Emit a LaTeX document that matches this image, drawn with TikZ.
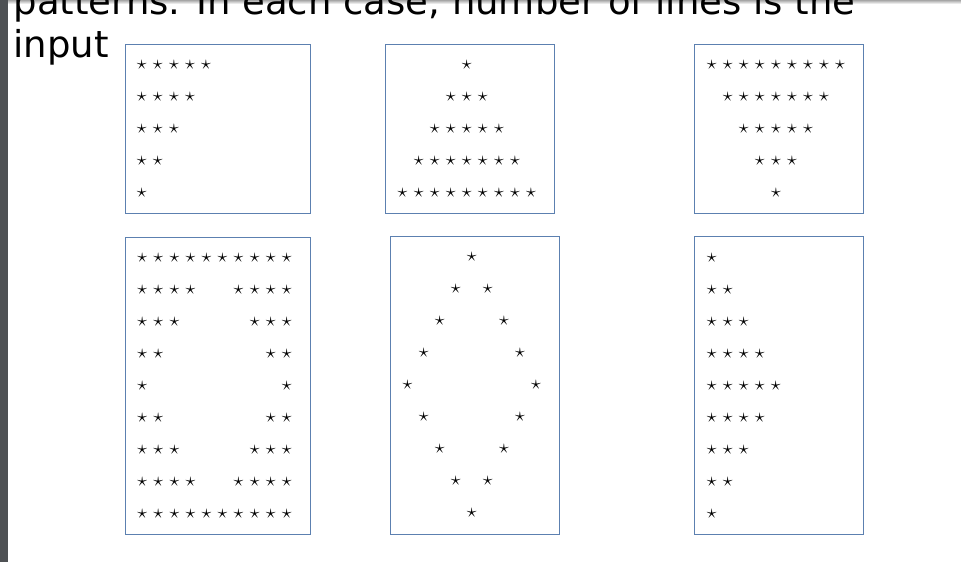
\documentclass[tikz,border=0pt]{standalone}
\usepackage{graphicx}
\usepackage{fontspec}
\newfontfamily\titlefont{DejaVu Sans}
\usetikzlibrary{positioning}
\definecolor{panelblue}{RGB}{92,128,176}
\definecolor{bargray}{RGB}{78,81,84}
\newcommand{\onestar}{\scalebox{0.8}{$\star$}}
\tikzset{
    panel/.style={draw=panelblue, line width=0.9pt, fill=none, inner sep=0pt},
    starnode/.style={inner sep=0pt, font=\fontsize{24.88}{24.88}\selectfont},
    heading/.style={anchor=base west, inner sep=0pt, font=\titlefont\fontsize{37}{42}\selectfont}
}

\begin{document}
\begin{tikzpicture}[x=1pt, y=-1pt]
        \clip (0,0) rectangle (961,562);
        \fill[white] (0,0) rectangle (961,562);
        \fill[bargray] (0,0) rectangle (8,562);
        \shade[top color=gray!70, bottom color=white] (8,0) rectangle (961,4);

        \node [heading] (line1) at (13.5,14.5) {patterns. In each case, number of lines is the};
        \node [heading] (line2) at (13.5,57) {input};

        % panels
        \node [panel, minimum width=185.5pt, minimum height=169pt] (box1) at (217.75,128.5) {};
        \node [panel, minimum width=168.3pt, minimum height=168.5pt] (box2) at (469.85,128.75) {};
        \node [panel, minimum width=168.3pt, minimum height=168.7pt] (box3) at (778.85,128.65) {};
        \node [panel, minimum width=185.7pt, minimum height=297pt] (box4) at (217.85,385.8) {};
        \node [panel, minimum width=168.3pt, minimum height=298pt] (box5) at (474.85,385) {};
        \node [panel, minimum width=168.3pt, minimum height=297.6pt] (box6) at (778.85,385.5) {};

        % top row
        \foreach \r [evaluate=\r as \n using int(6-\r)] in {1,...,5}
            \foreach \c in {1,...,\n}
                \node [starnode] (a-\r-\c) at ({141.7+16.1*(\c-1)},{65+31.9*(\r-1)}) {\onestar};
        \foreach \r [evaluate=\r as \n using int(2*\r-1)] in {1,...,5}
            \foreach \c in {1,...,\n}
                \node [starnode] (b-\r-\c) at ({466.8+16.05*(\c-\r)},{65+32*(\r-1)}) {\onestar};
        \foreach \r [evaluate=\r as \n using int(11-2*\r)] in {1,...,5}
            \foreach \c in {1,...,\n}
                \node [starnode] (c-\r-\c) at ({775.9+16.05*(\c-6+\r)},{65+32*(\r-1)}) {\onestar};

        % bottom row
        \foreach \r [evaluate=\r as \n using int(abs(\r-5)+1)] in {1,...,9}
            \foreach \c in {1,...,\n} {
                \node [starnode] (d-\r-\c) at ({142.3+16.04*(\c-1)},{258.3+31.96*(\r-1)}) {\onestar};
                \node [starnode] (e-\r-\c) at ({286.7-16.04*(\c-1)},{258.3+31.96*(\r-1)}) {\onestar};
            }
        \foreach \r [evaluate=\r as \d using int(4-abs(\r-5))] in {1,...,9} {
            \node [starnode] (f-\r-1) at ({471.8-16.05*\d},{256.7+32*(\r-1)}) {\onestar};
            \ifnum\d>0
                \node [starnode] (f-\r-2) at ({471.8+16.05*\d},{256.7+32*(\r-1)}) {\onestar};
            \fi
        }
        \foreach \r [evaluate=\r as \n using int(5-abs(\r-5))] in {1,...,9}
            \foreach \c in {1,...,\n}
                \node [starnode] (g-\r-\c) at ({711.7+16*(\c-1)},{258.3+31.96*(\r-1)}) {\onestar};
    \end{tikzpicture}
\end{document}
